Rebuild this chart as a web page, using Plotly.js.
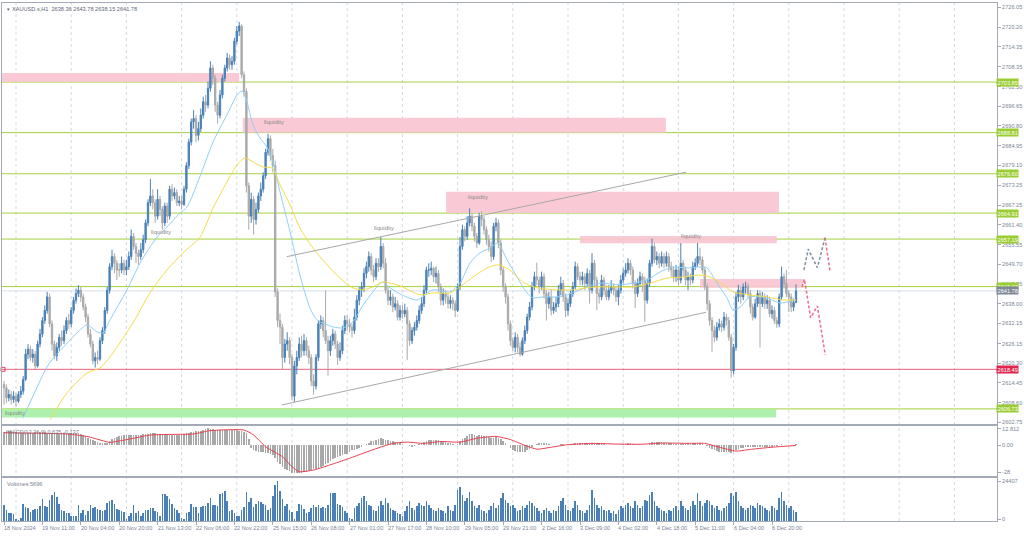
<!DOCTYPE html>
<html><head><meta charset="utf-8">
<script src="https://cdn.plot.ly/plotly-3.0.1.min.js"></script>
<style>html,body{margin:0;padding:0;background:#fff}#chart{width:1024px;height:537px}</style>
</head><body><div id="chart"></div>
<script>
// ---------- DATA ----------
const opens = [
2614,2613,2610,2611,2609.5,2610.5,2609,2611,2612,2615.5,
2623,2624.5,2622,2623,2619.5,2626,2629,2633,2636,2640,
2632,2626,2622.5,2625,2628,2627,2630,2633,2632,2636,
2639,2641,2642,2640,2637,2634,2629,2626,2621,2622,
2621.5,2627,2630,2636,2642,2649,2652,2650,2648,2648,
2650,2648,2649,2652,2658,2655,2653,2652,2654,2657,
2662,2668,2670,2668,2664,2669,2666,2662,2667,2664,
2672,2670,2671,2668,2668.5,2667.5,2672,2679,2686,2692,
2693,2688,2690,2694,2698,2697,2702,2708,2705,2697,
2694,2700,2705,2708,2711,2709,2710,2716,2719,2720.5,
2706,2701,2673,2664,2669,2663,2666,2670,2672,2676,
2683,2687,2682,2679,2641.5,2633,2631,2622,2626,2627,
2622,2610.5,2619.5,2622,2626,2624,2627,2624,2622,2615,
2613.5,2622,2632,2633,2630,2627,2624,2627,2629,2626,
2622,2624,2630,2633,2632,2631,2630,2634,2639,2642,
2643,2647,2649,2652,2648,2646,2650,2649,2655,2650,
2642,2639,2640,2637,2638,2634,2636,2635,2636,2632,
2627,2630,2631,2633,2636,2638,2642,2648,2648,2648.5,
2646,2647,2643,2639,2641,2640,2638,2639,2638,2636,
2643,2655,2660,2658,2662,2664,2661,2658,2656,2664,
2663,2660,2657,2655,2652,2661,2662,2656,2648,2643,
2640,2632,2627,2625,2628,2625,2623,2627,2630,2634,
2637,2643,2646,2645,2643,2646,2641,2638,2640,2636,
2637,2638,2642,2644,2640,2636,2638,2641,2643,2649,
2646,2645,2646,2644,2647,2642,2650,2645,2641,2640,
2645,2642,2640,2642,2643,2642,2640,2642,2645,2647,
2648,2650,2648,2644,2641,2644,2646,2645,2639,2644,
2650,2655,2651,2652,2650,2652,2650,2652,2649,2648,
2646,2648,2645,2650,2648,2645,2646,2645,2649,2650,
2652,2651,2648,2643,2638,2633,2630,2628,2631,2632,
2631,2634,2633,2628,2618,2625,2640,2642,2640,2643,
2643,2641,2637,2634,2638,2641,2638,2640,2638,2639,
2635,2636,2633,2632,2640,2646,2644,2641,2640,2637,
2638.36];
const highs = [
2615,2614,2612.5,2612,2612,2611.5,2612,2613.5,2616.5,2624.5,
2626,2625.5,2624.5,2624,2627,2630.5,2634,2637.5,2641.5,2641,
2633,2627,2626.5,2629,2630,2631.5,2634,2635,2637,2640,
2642.5,2643.5,2643,2641,2638,2635,2630.5,2627,2623.5,2624,
2628,2631,2637,2643,2650,2654,2653,2651,2650,2652,
2651,2651,2653.5,2660,2659,2656,2654,2656,2658.5,2663,
2669,2675,2672,2669,2672,2670,2667,2668,2668,2673,
2673.5,2672.5,2672,2670,2670,2673,2680,2687,2693,2695.5,
2694,2692,2696,2699.5,2700,2704,2710,2709,2706,2698,
2701.5,2706,2709,2712.5,2712,2711.5,2717,2720.5,2721.7,2721,
2707,2702,2674,2671,2670,2668,2671,2674,2677,2684,
2688.5,2688,2684,2680.5,2642.5,2635,2632,2627.5,2629.5,2628,
2623,2621,2624,2628,2628.5,2629,2628,2625.5,2623,2617,
2623,2633,2634.5,2634,2642,2628.5,2628.5,2630.5,2630,2627,
2626.5,2631.5,2634.5,2634.5,2633.5,2632,2636.5,2640.5,2643,2644.5,
2648.5,2650.5,2653.5,2653,2649.5,2651.5,2651.5,2657.8,2656,2651.5,
2643,2642,2641,2640,2639,2637.5,2637.5,2638,2637,2633,
2631,2632.5,2634.5,2637.5,2640,2643.5,2649,2650,2650.5,2649,
2649,2648,2644,2642.5,2642,2641,2640.5,2640,2639,2644,
2657.8,2661.5,2661,2664,2666.3,2665,2662,2659,2665,2665.5,
2664,2661,2658.5,2656.5,2662,2663.5,2663,2657,2649,2644,
2641,2633,2628,2629.5,2629,2626.5,2628,2631.5,2635,2638.5,
2644.5,2647.5,2650.2,2646,2647.5,2647,2642,2641.5,2642,2638.5,
2640,2643.5,2646,2645,2641,2639.5,2642,2644.5,2650.5,2650,
2647.5,2647.5,2647,2648.5,2648,2653,2651,2646,2642.5,2646.5,
2646,2643.5,2643.5,2645,2644,2643,2643.5,2646.5,2648.5,2650,
2651.5,2651,2649,2645,2645.5,2647.5,2647,2646,2645.5,2651,
2657.3,2656,2653.5,2653,2653.5,2653,2653.5,2653,2650.5,2649,
2649.5,2649,2656,2651,2649,2647.5,2647,2650.5,2651.5,2656,
2654.6,2652,2649,2644,2639,2634,2631.5,2632.5,2633.5,2633,
2635.5,2635,2634,2629,2626,2641.5,2643.6,2643,2644,2644.5,
2644,2642,2638,2639.5,2642,2642,2641.5,2641,2640.5,2640,
2637.5,2637,2634,2641,2649,2647,2648,2642,2641,2639.5,
2643.78];
const lows = [
2608,2608.5,2609,2608,2608.5,2607.5,2608.5,2610,2611,2615,
2621.5,2621,2620.5,2618.5,2619,2625,2628,2632,2635,2631,
2624,2621.5,2621,2624,2625.5,2626,2629,2630.5,2631,2635,
2638,2640,2638.5,2636,2632.5,2628,2625,2620,2619,2620,
2621,2626,2629,2635,2641,2648,2647,2645,2646,2647,
2646.5,2646.5,2648,2651,2654,2650,2649.5,2651,2653,2656,
2661,2667,2666,2662,2663,2664,2660,2661,2662,2663,
2668.5,2669,2667,2667,2666,2667,2671,2678,2685,2690,
2686,2686.5,2689,2693,2695,2696,2701,2703,2695,2691.5,
2693,2699,2704,2707,2707.5,2707.5,2709,2715,2717.5,2705,
2699.5,2671,2660,2662,2658.5,2661.5,2665,2668.5,2671,2675,
2682,2680.5,2677,2640,2631,2626,2618.5,2620.5,2624,2620,
2609.5,2608.8,2617,2621,2622,2622.5,2622.5,2620,2613.5,2611,
2612.5,2621,2630.5,2628,2626,2616.6,2622.5,2625.5,2624.5,2619.8,
2621,2623,2629,2630,2629.5,2628,2629,2633,2637.5,2640,
2641.5,2645.5,2647.5,2646.5,2644.5,2645,2647.5,2648,2648.5,2641,
2637.5,2637.5,2635.5,2636,2633,2633,2633.5,2634,2621.3,2625.5,
2626,2628.5,2630,2632,2635,2637,2641,2646,2646.5,2644.5,
2644,2641.5,2637.5,2637.5,2638,2636.5,2636.5,2636,2634,2635.5,
2642,2654,2656.5,2657,2661,2659.5,2656.5,2654.5,2655.5,2661,
2658.5,2655.5,2653.5,2650.3,2651,2659.5,2654.5,2646.5,2641.5,2638,
2630,2625.5,2624,2623.5,2623.5,2622.3,2622.5,2626,2629,2633,
2636,2642,2643.5,2641,2642,2639.5,2633,2636.5,2634.5,2635,
2635.5,2637,2640.5,2638.5,2634,2634.5,2637,2640,2642,2645,
2643.5,2643.5,2642,2643,2638,2641,2643,2636.1,2638,2639,
2640.5,2639,2639,2641,2640.5,2638.5,2637.5,2641,2644,2646,
2647,2646.5,2642.5,2636.7,2640,2643,2641.5,2632.6,2638,2643,
2649,2650,2649.5,2648.5,2649,2648.5,2649,2647.5,2646,2644.5,
2644.5,2643.5,2644,2646,2643.5,2642,2643.5,2644,2648,2649,
2649.5,2647,2642,2636,2631.5,2623.7,2626.5,2627,2630,2629.5,
2630,2631.5,2627,2616,2617,2624,2638.5,2638,2639,2641,
2639.5,2635,2633,2633.5,2637,2625,2637,2636.5,2636.5,2634,
2633.5,2632,2630.8,2631,2639,2642.5,2640,2635.5,2635.5,2635.8,
2638.15];
const closes = [
2613,2610,2611,2609.5,2610.5,2609,2611,2612,2615.5,2623,
2624.5,2622,2623,2619.5,2626,2629,2633,2636,2640,2632,
2626,2622.5,2625,2628,2627,2630,2633,2632,2636,2639,
2641,2642,2640,2637,2634,2629,2626,2621,2622,2621.5,
2627,2630,2636,2642,2649,2652,2650,2648,2648,2650,
2648,2649,2652,2658,2655,2653,2652,2654,2657,2662,
2668,2670,2668,2664,2669,2666,2662,2667,2664,2672,
2670,2671,2668,2668.5,2667.5,2672,2679,2686,2692,2693,
2688,2690,2694,2698,2697,2702,2708,2705,2697,2694,
2700,2705,2708,2711,2709,2710,2716,2719,2720.5,2706,
2701,2673,2664,2669,2663,2666,2670,2672,2676,2683,
2687,2682,2679,2641.5,2633,2631,2622,2626,2627,2622,
2610.5,2619.5,2622,2626,2624,2627,2624,2622,2615,2613.5,
2622,2632,2633,2630,2627,2624,2627,2629,2626,2622,
2624,2630,2633,2632,2631,2630,2634,2639,2642,2643,
2647,2649,2652,2648,2646,2650,2649,2655,2650,2642,
2639,2640,2637,2638,2634,2636,2635,2636,2632,2627,
2630,2631,2633,2636,2638,2642,2648,2648,2648.5,2646,
2647,2643,2639,2641,2640,2638,2639,2638,2636,2643,
2655,2660,2658,2662,2664,2661,2658,2656,2664,2663,
2660,2657,2655,2652,2661,2662,2656,2648,2643,2640,
2632,2627,2625,2628,2625,2623,2627,2630,2634,2637,
2643,2646,2645,2643,2646,2641,2638,2640,2636,2637,
2638,2642,2644,2640,2636,2638,2641,2643,2649,2646,
2645,2646,2644,2647,2642,2650,2645,2641,2640,2645,
2642,2640,2642,2643,2642,2640,2642,2645,2647,2648,
2650,2648,2644,2641,2644,2646,2645,2639,2644,2650,
2655,2651,2652,2650,2652,2650,2652,2649,2648,2646,
2648,2645,2650,2648,2645,2646,2645,2649,2650,2652,
2651,2648,2643,2638,2633,2630,2628,2631,2632,2631,
2634,2633,2628,2618,2625,2640,2642,2640,2643,2643,
2641,2637,2634,2638,2641,2638,2640,2638,2639,2635,
2636,2633,2632,2640,2646,2644,2641,2640,2637,2638.36,
2641.78];
const volumes = [
9800,6700,4900,4700,4300,1000,600,1800,10200,8800,
7800,5500,6700,7600,7600,9400,13200,9400,8800,12600,
15900,17900,14900,10600,7000,5800,4900,4900,3200,3200,
2800,9600,4900,6700,3800,5800,9600,7800,8400,7600,
6700,5800,6700,11000,12100,13000,10600,7600,6700,5800,
5200,1000,3200,4900,9600,4900,5800,2800,4900,7000,
6700,8200,8000,5800,5200,2800,16500,16500,15300,13200,
10600,8200,6700,4900,1800,1200,4900,5200,10100,8600,
8400,4900,8400,9200,9200,11000,14300,9600,9600,9400,
16500,17300,18500,12100,5800,7000,4900,2800,3200,6700,
8600,17900,11600,13800,8600,10600,12100,11600,10600,9600,
7000,8200,15300,21700,24407,18500,13200,9200,10600,6700,
5200,1000,6300,10600,9600,7600,4900,5200,8200,9600,
8800,9600,8200,8800,8200,9600,17300,16900,16900,10600,
9600,8600,5800,4900,1800,1200,8000,9000,11000,14000,
15000,12000,10000,9000,7000,6000,9000,12000,10000,14000,
11000,8000,7000,6000,5000,4000,3000,6000,9000,12000,
8000,7000,9000,11000,10000,9000,12000,10000,8000,7000,
6000,8000,7000,6000,5000,9000,7000,6000,10000,19000,
21000,16000,12000,14000,18000,12000,9000,8000,10000,7000,
6000,5000,7000,9000,11000,8000,10000,14000,17000,13000,
11000,9000,10000,8000,6000,7000,9000,8000,10000,12000,
11000,9000,8000,6000,5000,7000,8000,6000,5000,7000,
6000,9000,12000,14000,10000,7000,6000,8000,12000,10000,
7000,6000,5000,7000,10000,19000,14000,10000,8000,9000,
7000,6000,7000,5000,6000,4000,7000,9000,8000,10000,
11000,9000,8000,12000,10000,8000,9000,13000,12000,16000,
18000,12000,9000,8000,7000,6000,5000,7000,6000,8000,
9000,7000,12000,9000,8000,7000,9000,12000,10000,17000,
12000,9000,11000,13000,12000,10000,8000,9000,7000,6000,
8000,9000,11000,17000,15000,18000,12000,9000,8000,7000,
8000,10000,9000,8000,11000,10000,9000,8000,7000,6000,
9000,8000,7000,14000,18000,12000,10000,8000,9000,7000,
5696];
const macdMain = [
10.7,10.9,11.1,11.2,10.8,10.2,9.9,9.6,9.4,9.5,
9.7,9.9,10.0,10.1,10.2,10.3,10.5,10.4,10.0,9.4,
9.1,8.9,9.0,9.2,9.4,9.6,9.8,9.9,9.9,10.0,
9.9,9.5,8.8,8.1,7.2,6.0,5.0,4.0,3.2,2.5,
2.0,1.6,1.7,2.1,3.5,5.0,6.0,6.8,7.3,7.6,
7.9,8.1,8.1,8.1,8.1,8.2,8.3,8.4,8.6,8.8,
9.0,9.3,9.4,9.3,9.1,8.9,8.6,8.3,8.1,7.9,
7.8,7.8,7.9,8.1,8.4,8.8,9.3,9.8,10.5,10.8,
11.0,11.3,11.5,12.0,12.8,13.4,13.2,12.6,12.4,12.2,
12.1,12.1,12.1,12.1,12.1,12.1,12.0,11.8,11.5,11.0,
10.2,9.4,5.0,-2.4,-3.5,-4.5,-5.0,-5.2,-5.5,-5.8,
-6.2,-6.8,-7.6,-10.0,-13.5,-15.0,-17.0,-18.5,-19.5,-20.5,
-22.0,-22.0,-22.0,-22.0,-21.8,-21.3,-20.8,-20.2,-19.5,-19.0,
-18.3,-17.6,-17.0,-16.0,-15.0,-14.0,-12.5,-11.0,-10.0,-9.2,
-8.4,-7.8,-7.2,-6.5,-5.0,-4.0,-3.5,-3.0,-2.0,-1.0,
0,1,2,3,3.5,4,5,5.5,5,4.5,
4,3.5,3,2.5,2,1.5,1,0.5,0,-0.5,
-1,-0.5,0,1,1.5,2.5,3.5,4,4.5,4.5,
4.5,4,3.5,3,2.5,2,1.5,1,0.5,1,
3,5,6,7.5,8.5,8.5,8,7.5,8,8,
7.5,7,6.5,6,6,6.5,6,5,3.5,2,
0,-2,-3.5,-4.5,-5,-5.5,-5.5,-5,-4,-3,
-1.5,0,1,1.5,2,2,1.5,1,0.5,0.5,
0.5,0.5,1,1,0.5,0.5,1,1,1.5,2,
2,2,2,2,1.5,2,2,1.5,1,1,
1,0.5,0.5,0.5,0,0,0,0.5,1,1,
1.5,1.5,1,0.5,0.5,0.5,0.5,0,0.5,1.5,
2.5,2.5,2.5,2.5,2.5,2,2,2,1.5,1,
1,1,1,1,1,1,1,1.5,1.5,2,
2,1.5,0.5,-0.5,-2,-3,-4,-4.5,-5,-5,
-5,-5,-5,-6,-5.5,-4,-3,-2.5,-2,-1.5,
-1.5,-1.5,-1.5,-1.5,-1,-1,-1,-1,-1,-1,
-1,-0.8,-0.3,0.4,0.7,0.6,0.5,0.3,0.4,0.5,
0.635];
const signalBar = [0,12,26,35,40,44,48,54,61,71,79,86,100,104,109,116,120,123,129,137,144,150,156,162,168,175,182,190,197,205,211,217,222,228,235,245,255,265,275,285,292,298,305,312,320,330];
const signalVal = [9.9,9.6,8.9,6.8,4.2,2.3,3.4,5.5,8.1,8.6,8.9,11.5,12.0,8.1,-1.1,-8.9,-16.8,-20.7,-19.4,-14.7,-10.2,-6,-2,1.5,2.5,1.5,3,2.5,5.5,7,4.5,0,-3,-1.5,0.5,1.5,1,0.8,1.8,1.5,1.5,-1.5,-4.5,-3,-1.5,-0.137];
const maFastBar = [7.9,17.9,20,30.4,34.6,38.75,41.25,44.2,51.25,56.7,63.75,67.9,73.3,76.25,81.7,87.1,92.9,97.1,99.2,101.25,103.75,106.7,109.6,112.1,115,119.2,123.3,127.5,130.4,137.1,141.25,145.4,149.6,153.75,157.5,160.8,165,172.1,178.75,185.8,190,194.2,198.3,202.5,205.8,209.6,213.75,217.9,220.4,224.6,230.4,234.6,240,245.4,248.3,256.7,262,267.9,273.3,278.75,284.6,290,292.9,297.1,301.25,303.75,306.7,310.8,317.9,323.3,330];
const maFastVal = [2604.0,2619.2,2621.3,2629.3,2631.7,2629.6,2629.3,2633.2,2642.1,2650.1,2657.8,2660.8,2664.9,2666.7,2675.9,2686.0,2694.1,2700.0,2701.2,2697.9,2691.1,2687.2,2684.5,2680.1,2671.2,2659.3,2646.5,2636.7,2633.2,2631.1,2630.8,2632.6,2637.6,2641.5,2644.4,2642.7,2640.9,2639.1,2642.1,2641.5,2644.1,2650.1,2653.1,2654.5,2656.0,2651.0,2645.9,2641.2,2639.7,2640.0,2640.0,2640.6,2642.1,2643.6,2644.1,2643.6,2644.1,2645.0,2647.4,2648.9,2648.6,2648.9,2648.6,2644.1,2639.7,2636.1,2637.0,2640.0,2639.7,2638.2,2639.1];
const maSlowBar = [19.2,26.25,34.6,40,44.2,53.75,60.8,67.9,74.6,81.7,87.1,92.9,97.1,100.4,103.75,107.9,111.7,115,119.2,123.3,128.75,134.6,140,145.4,149.6,153.75,157.9,165,173.3,178.75,185.8,190,195.4,201.25,205.8,210.8,216.25,222.1,230.4,237.1,242.9,248.3,262.1,269.2,276.25,283,290,294.2,299.6,303.75,310.8,317.9,324.6,330];
const maSlowVal = [2603.5,2611.5,2617.4,2618.9,2622.2,2632.3,2641.2,2648.0,2653.1,2657.8,2666.4,2674.2,2679.2,2681.3,2680.1,2678.6,2678.3,2673.3,2667.3,2660.5,2654.5,2649.5,2645.6,2642.7,2642.1,2643.0,2644.4,2643.3,2640.6,2641.2,2641.2,2643.0,2645.9,2648.6,2649.5,2648.0,2644.4,2642.7,2642.1,2642.1,2642.7,2643.0,2643.0,2644.1,2645.6,2645.9,2646.5,2645.9,2643.6,2641.5,2640.6,2640.0,2639.1,2639.1];
const projUpBar = [333.3,335.1,338.9,342.1];
const projUpVal = [2648.0,2654.2,2648.7,2657.6];
const projDownBar = [332.5,333.5,336.1,338.9,342.2];
const projDownVal = [2642.95,2645.3,2633.8,2637.3,2622.75];
const projTurnBar = [342.1,344.2];
const projTurnVal = [2657.6,2647.5];
const dateLabels = ['18 Nov 2024','19 Nov 11:00','20 Nov 04:00','20 Nov 20:00','21 Nov 13:00','22 Nov 06:00','22 Nov 22:00','25 Nov 15:00','26 Nov 08:00','27 Nov 01:00','27 Nov 17:00','28 Nov 10:00','29 Nov 05:00','29 Nov 21:00','2 Dec 16:00','3 Dec 09:00','4 Dec 02:00','4 Dec 18:00','5 Dec 11:00','6 Dec 04:00','6 Dec 20:00'];
const dateLabelBar = [0,16,32,48,64,80,96,112,128,144,160,176,192,208,224,240,256,272,288,304,320];
const priceTicks = [2726.05,2720.20,2714.35,2708.35,2702.50,2696.65,2690.80,2684.95,2679.10,2673.25,2667.25,2661.40,2655.55,2649.70,2643.85,2638.00,2632.15,2626.15,2620.30,2614.45,2608.60,2602.75];
const greenLevels = [2703.85,2688.81,2676.60,2664.91,2657.19,2643.07,2606.73];
const redLevel = 2618.49;
const lastPrice = 2641.78;
const gridBars = [5,28,51,74,97,120,143,166,189,212,235,258,281,304,327,350,373,396];

// ---------- STYLE / LAYOUT ----------
const XR = [-0.833, 413.75];
const AX = '#a3aab5';
const TXT = '#7b8597';
const FONT = 'Liberation Sans, DejaVu Sans, sans-serif';
const FS = 5.6;
const PINK = 'rgba(248,196,208,0.9)';
const GREENZ = 'rgba(170,240,170,0.95)';
const idx = closes.map((_, i) => i);

const traces = [
  {type:'candlestick', x:idx, open:opens, high:highs, low:lows, close:closes, xaxis:'x', yaxis:'y',
   increasing:{line:{color:'#4a80b6', width:1}, fillcolor:'#4a80b6'},
   decreasing:{line:{color:'#a9a9a9', width:1}, fillcolor:'#a9a9a9'},
   whiskerwidth:0, hoverinfo:'skip'},
  {type:'scatter', mode:'lines', x:maFastBar, y:maFastVal, xaxis:'x', yaxis:'y', line:{color:'#8fd0f5', width:1, shape:'spline', smoothing:0.7}, hoverinfo:'skip'},
  {type:'scatter', mode:'lines', x:maSlowBar, y:maSlowVal, xaxis:'x', yaxis:'y', line:{color:'#f5dc4a', width:1, shape:'spline', smoothing:0.7}, hoverinfo:'skip'},
  {type:'scatter', mode:'lines', x:projUpBar, y:projUpVal, xaxis:'x', yaxis:'y', line:{color:'#7f8ea5', width:1.5, dash:'3px,2px'}, hoverinfo:'skip'},
  {type:'scatter', mode:'lines', x:projDownBar, y:projDownVal, xaxis:'x', yaxis:'y', line:{color:'#ea6f8c', width:1.5, dash:'3px,2px'}, hoverinfo:'skip'},
  {type:'scatter', mode:'lines', x:projTurnBar, y:projTurnVal, xaxis:'x', yaxis:'y', line:{color:'#ea6f8c', width:1.5, dash:'3px,2px'}, hoverinfo:'skip'},
  {type:'scatter', mode:'markers', x:[-0.4], y:[redLevel], xaxis:'x', yaxis:'y', marker:{symbol:'square-open', size:4, color:'#e0405c', line:{width:1}}, cliponaxis:false, hoverinfo:'skip'},
  {type:'bar', x:idx, y:macdMain, xaxis:'x2', yaxis:'y2', width:0.6, marker:{color:'#a8a8a8', line:{width:0}}, hoverinfo:'skip'},
  {type:'scatter', mode:'lines', x:signalBar, y:signalVal, xaxis:'x2', yaxis:'y2', line:{color:'#e8414d', width:1, shape:'spline', smoothing:0.6}, hoverinfo:'skip'},
  {type:'bar', x:idx, y:volumes, xaxis:'x3', yaxis:'y3', width:0.62, marker:{color:'#4a80b6', line:{width:0}}, hoverinfo:'skip'}
];

const shapes = [];
gridBars.forEach(g => shapes.push({type:'line', xref:'x', yref:'paper', x0:g, x1:g, y0:0, y1:1, layer:'below', line:{color:'#d3d9e3', width:1, dash:'3px,3px'}}));
const zones = [
  {x0:-0.8, x1:98, y0:2703.85, y1:2706.5, c:PINK},
  {x0:99.5, x1:275.8, y0:2688.81, y1:2693.25, c:PINK},
  {x0:184.2, x1:322.9, y0:2664.91, y1:2671.27, c:PINK},
  {x0:240, x1:322, y0:2655.94, y1:2658.1, c:PINK},
  {x0:290, x1:333, y0:2642.75, y1:2645.33, c:PINK},
  {x0:-0.8, x1:321.7, y0:2604.2, y1:2606.73, c:GREENZ}
];
zones.forEach(z => shapes.push({type:'rect', xref:'x', yref:'y', x0:z.x0, x1:z.x1, y0:z.y0, y1:z.y1, fillcolor:z.c, line:{width:0}, layer:'below'}));
shapes.push({type:'line', xref:'paper', yref:'y', x0:0, x1:1, y0:lastPrice, y1:lastPrice, line:{color:'#d6deea', width:1}, layer:'below'});
greenLevels.forEach(l => shapes.push({type:'line', xref:'paper', yref:'y', x0:0, x1:1, y0:l, y1:l, line:{color:'#a4d23c', width:1}, layer:'below'}));
shapes.push({type:'line', xref:'paper', yref:'y', x0:0, x1:1, y0:redLevel, y1:redLevel, line:{color:'#e4607a', width:1}, layer:'below'});
shapes.push({type:'line', xref:'x', yref:'y', x0:117.8, y0:2651.96, x1:284.2, y1:2677.06, line:{color:'#a8a8a8', width:1}});
shapes.push({type:'line', xref:'x', yref:'y', x0:115.7, y0:2607.9, x1:292.5, y1:2635.44, line:{color:'#a8a8a8', width:1}});

const ann = [];
ann.push({xref:'paper', yref:'paper', x:0, y:1, xanchor:'left', yanchor:'top', xshift:2, yshift:-1, showarrow:false,
  text:'<span style="font-size:4.5px">▼</span> XAUUSD.s,H1  2638.36 2643.78 2638.15 2641.78', font:{family:FONT, size:FS, color:'#5e6675'}});
ann.push({xref:'paper', yref:'paper', x:0, y:0.1834, xanchor:'left', yanchor:'top', xshift:3, yshift:-1, showarrow:false,
  text:'MACD(12,26,9) 0.635 -0.137', font:{family:FONT, size:FS, color:'#7a8290'}});
ann.push({xref:'paper', yref:'paper', x:0, y:0.083, xanchor:'left', yanchor:'top', xshift:3, yshift:-1, showarrow:false,
  text:'Volumes 5696', font:{family:FONT, size:FS, color:'#7a8290'}});
dateLabels.forEach((t, i) => ann.push({xref:'x3', yref:'paper', x:dateLabelBar[i], y:0, xanchor:'left', yanchor:'top', xshift:-2, yshift:-2, showarrow:false, text:t, font:{family:FONT, size:FS, color:TXT}}));
const boxLabel = (v, bg) => ({xref:'paper', yref:'y', x:1, y:v, xanchor:'left', yanchor:'middle', xshift:-1, showarrow:false, text:v.toFixed(2), bgcolor:bg, borderpad:0.6, font:{family:FONT, size:FS, color:'#ffffff'}});
greenLevels.forEach(l => ann.push(boxLabel(l, '#9acd32')));
ann.push(boxLabel(lastPrice, '#7e8898'));
ann.push(boxLabel(redLevel, '#e0244e'));
const liq = [[107.5,2691.9],[60.5,2659.4],[153.5,2660.5],[192.5,2669.7],[281.2,2658.1],[-0.4,2605.6]];
liq.forEach(p => ann.push({xref:'x', yref:'y', x:p[0], y:p[1], xanchor:'left', yanchor:'middle', showarrow:false, text:'liquidity', font:{family:FONT, size:6, color:'#8a8a8a'}}));

const baseX = {range:XR, showgrid:false, zeroline:false, showline:true, mirror:true, linecolor:AX, linewidth:1, fixedrange:true};
const baseY = {side:'right', showgrid:false, zeroline:false, showline:true, mirror:true, linecolor:AX, linewidth:1, ticks:'outside', ticklen:3, tickcolor:AX, tickfont:{family:FONT, size:FS, color:TXT}, fixedrange:true};

const layout = {
  width:1024, height:537, margin:{l:2, r:27, t:3, b:16},
  paper_bgcolor:'#ffffff', plot_bgcolor:'#ffffff', showlegend:false, hovermode:false,
  boxgap:0.2, bargap:0,
  font:{family:FONT, size:FS, color:TXT},
  xaxis: Object.assign({}, baseX, {anchor:'y', showticklabels:false, ticks:'', rangeslider:{visible:false}}),
  yaxis: Object.assign({}, baseY, {domain:[0.1873,1], anchor:'x', range:[2602.25,2727.33], tickvals:priceTicks, tickformat:'.2f'}),
  xaxis2: Object.assign({}, baseX, {anchor:'y2', showticklabels:false, ticks:''}),
  yaxis2: Object.assign({}, baseY, {domain:[0.0869,0.1834], anchor:'x2', range:[-24.1,15.17], tickvals:[12.812,0,-21.3], ticktext:['12.812','0.00','-28']}),
  xaxis3: Object.assign({}, baseX, {anchor:'y3', showticklabels:false, tickvals:dateLabelBar, ticks:'outside', ticklen:3, tickcolor:AX}),
  yaxis3: Object.assign({}, baseY, {domain:[0,0.083], anchor:'x3', range:[0,26240], tickvals:[24407,1200], ticktext:['24407','0']}),
  shapes:shapes, annotations:ann
};
Plotly.newPlot('chart', traces, layout, {staticPlot:true, displayModeBar:false});
</script></body></html>
